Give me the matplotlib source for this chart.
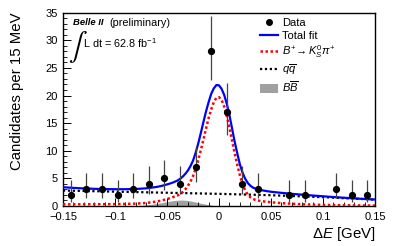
import matplotlib
matplotlib.use("Agg")
import matplotlib.pyplot as plt
from matplotlib.lines import Line2D
from matplotlib.patches import Patch
from matplotlib.ticker import MultipleLocator

plt.rcParams['font.family'] = ['Liberation Sans', 'DejaVu Sans']
plt.rcParams['mathtext.fontset'] = 'custom'
plt.rcParams['mathtext.rm'] = 'Liberation Sans'
plt.rcParams['mathtext.it'] = 'Liberation Sans:italic'
plt.rcParams['mathtext.bf'] = 'Liberation Sans:bold'

# ---- data ----
bin_centers = [-0.1425, -0.1275, -0.1125, -0.0975, -0.0825, -0.0675, -0.0525, -0.0375,
               -0.0225, -0.0075, 0.0075, 0.0225, 0.0375, 0.0675, 0.0825, 0.1125, 0.1275, 0.1425]
counts = [2, 3, 3, 2, 3, 4, 5, 4, 7, 28, 17, 4, 3, 2, 2, 3, 2, 2]
err_low = [1.29, 1.63, 1.63, 1.29, 1.63, 1.91, 2.16, 1.91, 2.58, 5.26, 4.08, 1.91, 1.63, 1.29, 1.29, 1.63, 1.29, 1.29]
err_high = [2.64, 2.92, 2.92, 2.64, 2.92, 3.16, 3.38, 3.16, 3.77, 6.35, 5.20, 3.16, 2.92, 2.64, 2.64, 2.92, 2.64, 2.64]

fit_x = [-0.150, -0.140, -0.130, -0.120, -0.110, -0.100, -0.090, -0.080, -0.070, -0.060,
         -0.055, -0.050, -0.045, -0.040, -0.0375, -0.035, -0.0325, -0.030, -0.0275, -0.025,
         -0.0225, -0.020, -0.0175, -0.015, -0.0125, -0.010, -0.0075, -0.005, -0.0025, 0.000,
         0.0025, 0.005, 0.0075, 0.010, 0.0125, 0.015, 0.0175, 0.020, 0.0225, 0.025,
         0.0275, 0.030, 0.0325, 0.035, 0.040, 0.045, 0.050, 0.060, 0.070, 0.080,
         0.090, 0.100, 0.110, 0.120, 0.130, 0.140, 0.150]
total_fit = [3.40, 3.28, 3.18, 3.11, 3.06, 3.04, 3.04, 3.08, 3.20, 3.45,
             3.65, 3.90, 4.20, 4.60, 4.90, 5.30, 5.80, 6.40, 7.20, 8.20,
             9.60, 11.3, 13.2, 15.2, 17.1, 18.8, 20.3, 21.3, 21.9, 21.85,
             21.2, 20.1, 18.5, 16.5, 14.1, 11.7, 9.6, 7.6, 6.1, 5.0,
             4.2, 3.7, 3.35, 3.15, 2.90, 2.72, 2.58, 2.38, 2.20, 2.05,
             1.90, 1.76, 1.62, 1.50, 1.38, 1.27, 1.17]
signal_fit = [0.30, 0.30, 0.30, 0.31, 0.32, 0.34, 0.37, 0.43, 0.55, 0.80,
              1.00, 1.25, 1.55, 1.90, 2.15, 2.50, 3.00, 3.60, 4.40, 5.40,
              6.70, 8.30, 10.1, 12.0, 14.0, 15.9, 17.5, 18.8, 19.6, 19.7,
              19.2, 18.0, 16.3, 14.2, 11.9, 9.6, 7.5, 5.6, 4.1, 2.9,
              2.1, 1.6, 1.3, 1.1, 0.90, 0.78, 0.68, 0.52, 0.40, 0.31,
              0.25, 0.20, 0.16, 0.13, 0.11, 0.09, 0.07]

qq_x = [-0.15, -0.10, -0.05, 0.0, 0.05, 0.10, 0.15]
qq_fit = [2.80, 2.60, 2.40, 2.20, 1.95, 1.60, 1.15]

bb_x = [-0.085, -0.075, -0.065, -0.055, -0.050, -0.045, -0.040, -0.035, -0.030, -0.025,
        -0.020, -0.015, -0.010, -0.005, 0.000, 0.005]
bb_fit = [0.0, 0.10, 0.30, 0.60, 0.80, 0.95, 1.05, 1.08, 1.00, 0.82,
          0.60, 0.40, 0.22, 0.10, 0.03, 0.0]

x_ticks = [-0.15, -0.1, -0.05, 0, 0.05, 0.1, 0.15]
x_tick_labels = ['\u22120.15', '\u22120.1', '\u22120.05', '0', '0.05', '0.1', '0.15']
y_ticks = [0, 5, 10, 15, 20, 25, 30, 35]

# ---- figure ----
W, H = 395, 246
fig = plt.figure(figsize=(W / 100, H / 100), dpi=100)
ax = fig.add_axes([63 / W, 1 - 206 / H, 312 / W, 193.3 / H])

ax.fill_between(bb_x, 0, bb_fit, color='#a0a0a0', lw=0, zorder=1)
ax.plot(qq_x, qq_fit, color='black', ls=(0, (1, 1.2)), lw=1.6, zorder=2)
ax.plot(fit_x, signal_fit, color='#ff0000', ls=(0, (1, 1.0)), lw=1.8, zorder=3)
ax.plot(fit_x, total_fit, color='#0000ff', lw=1.6, zorder=4)
ax.errorbar(bin_centers, counts, yerr=[err_low, err_high], fmt='o', color='black',
            ecolor='#444444', elinewidth=0.9, ms=4.2, capsize=0, zorder=5)

ax.set_xlim(-0.15, 0.15)
ax.set_ylim(0, 35)
ax.set_xticks(x_ticks)
ax.set_xticklabels(x_tick_labels)
ax.set_yticks(y_ticks)
ax.xaxis.set_minor_locator(MultipleLocator(0.01))
ax.yaxis.set_minor_locator(MultipleLocator(1))
ax.tick_params(which='both', direction='in', top=False, right=False, labelsize=8)
ax.tick_params(axis='x', pad=4)
ax.tick_params(axis='y', pad=4)
ax.tick_params(which='major', length=5.5, width=0.7)
ax.tick_params(which='minor', length=2.8, width=0.6)
for sp in ax.spines.values():
    sp.set_linewidth(1.0)

ax.set_xlabel(r'$\Delta E$ [GeV]', fontsize=10.8, loc='right')
ax.xaxis.set_label_coords(1.0, -(225 - 206) / 193.3)
ax.set_ylabel('Candidates per 15 MeV', fontsize=10.8, loc='top')
ax.yaxis.set_label_coords((24 - 63) / 312, 1.0)

ax.text((73 - 63) / 312, 1 - (23 - 12.7) / 193.3, 'Belle II', transform=ax.transAxes,
        fontsize=6.8, fontweight='bold', fontstyle='italic', va='center', ha='left')
ax.text((109 - 63) / 312, 1 - (23 - 12.7) / 193.3, '(preliminary)', transform=ax.transAxes,
        fontsize=7.8, va='center', ha='left')
ax.text((68 - 63) / 312, 1 - (47 - 12.7) / 193.3, r'$\int$', transform=ax.transAxes,
        fontsize=20, va='center', ha='left', math_fontfamily='stix')
ax.text((83 - 63) / 312, 1 - (43 - 12.7) / 193.3, r'L dt = 62.8 fb$^{-1}$',
        transform=ax.transAxes, fontsize=7.8, va='center', ha='left')

handles = [
    Line2D([], [], marker='o', color='black', ls='none', ms=4),
    Line2D([], [], color='#0000ff', lw=1.6),
    Line2D([], [], color='#ff0000', ls=(0, (1, 1.0)), lw=1.8),
    Line2D([], [], color='black', ls=(0, (1, 1.2)), lw=1.6),
    Patch(facecolor='#a0a0a0', edgecolor='none'),
]
labels = ['Data', 'Total fit', r'$B^{+}\!\rightarrow K^{0}_{S}\pi^{+}$', r'$q\overline{q}$',
          r'$B\overline{B}$']
ax.legend(handles, labels, loc='upper left',
          bbox_to_anchor=((260 - 63) / 312, 1 - (18 - 12.7) / 193.3), frameon=False,
          fontsize=8, handlelength=1.65, handletextpad=0.33, labelspacing=0.22,
          handleheight=0.8, borderaxespad=0, borderpad=0)

fig.savefig('out.png', dpi=100)
